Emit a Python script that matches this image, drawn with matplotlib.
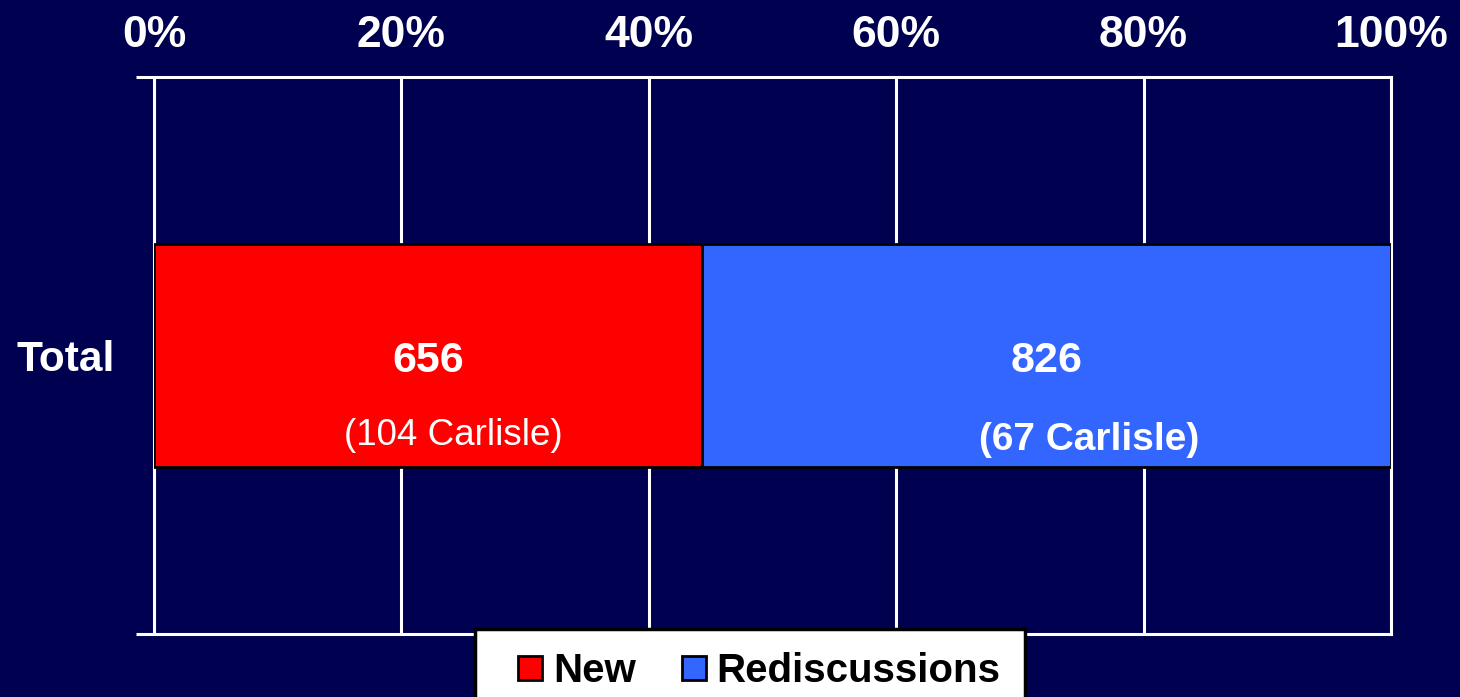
import matplotlib
matplotlib.use("Agg")
import matplotlib.pyplot as plt
from matplotlib.patches import Rectangle
from matplotlib.lines import Line2D

categories = ["Total"]
series_names = ["New", "Rediscussions"]
new_counts = [656]
redisc_counts = [826]
new_notes = ["(104 Carlisle)"]
redisc_notes = ["(67 Carlisle)"]
tick_values = [0, 20, 40, 60, 80, 100]
tick_labels = ["0%", "20%", "40%", "60%", "80%", "100%"]

BG = "#000050"
RED = "#FF0000"
BLUE = "#3366FF"

plt.rcParams['font.family'] = ['Liberation Sans', 'DejaVu Sans']

fig = plt.figure(figsize=(14.6, 6.97), dpi=100, facecolor=BG)
ax = fig.add_axes([154/1460, 1-634/697, (1391-154)/1460, (634-77)/697])
ax.set_facecolor(BG)

totals = [a + b for a, b in zip(new_counts, redisc_counts)]
new_pct = [100*a/t for a, t in zip(new_counts, totals)]
red_pct = [100*b/t for b, t in zip(redisc_counts, totals)]
y = list(range(len(categories)))

ax.barh(y, new_pct, height=0.4, color=RED, edgecolor="black", linewidth=2, zorder=3)
ax.barh(y, red_pct, left=new_pct, height=0.4, color=BLUE, edgecolor="black", linewidth=2, zorder=3)

for i in y:
    cx1 = new_pct[i]/2
    cx2 = new_pct[i] + red_pct[i]/2
    ax.text(cx1, i - 0.009, str(new_counts[i]), color="white", fontsize=31, fontweight="bold",
            ha="center", va="center", zorder=4)
    ax.text(cx1 + 2.1, i - 0.143, new_notes[i], color="white", fontsize=26.5,
            ha="center", va="center", zorder=4)
    ax.text(cx2, i - 0.009, str(redisc_counts[i]), color="white", fontsize=31, fontweight="bold",
            ha="center", va="center", zorder=4)
    ax.text(cx2 + 3.5, i - 0.152, redisc_notes[i], color="white", fontsize=28, fontweight="bold",
            ha="center", va="center", zorder=4)

ax.set_xlim(0, 100)
ax.set_ylim(-0.5, 0.5)
ax.set_xticks(tick_values)
ax.set_xticklabels(tick_labels)
ax.xaxis.tick_top()
ax.tick_params(axis="x", length=0, pad=15, labelsize=32, labelcolor="white")
for lab in ax.get_xticklabels():
    lab.set_fontweight("bold")
ax.grid(axis="x", color="white", linewidth=2.2, zorder=1)
ax.set_axisbelow(True)

ax.set_yticks([-0.5, 0.5], minor=False)
ax.set_yticklabels(["", ""])
ax.tick_params(axis="y", length=13, width=2.2, color="white", direction="out")
ax.set_yticks(y, minor=True)
ax.set_yticklabels(categories, minor=True)
ax.tick_params(axis="y", which="minor", length=0, pad=28, labelsize=30.5, labelcolor="white")
for lab in ax.get_yticklabels(minor=True):
    lab.set_fontweight("bold")

for s in ["left", "top", "bottom", "right"]:
    ax.spines[s].set_color("white")
    ax.spines[s].set_linewidth(2.2)
    ax.spines[s].set_zorder(2)

# legend box
fig.patches.append(Rectangle((475/1460, -0.05), (1025-475)/1460, (1-629/697) + 0.05,
                             transform=fig.transFigure, facecolor="white",
                             edgecolor="black", linewidth=2.5, zorder=5))

handles = [Line2D([], [], marker="s", linestyle="none", markersize=17,
                  markerfacecolor=RED, markeredgecolor="black", markeredgewidth=2),
           Line2D([], [], marker="s", linestyle="none", markersize=17,
                  markerfacecolor=BLUE, markeredgecolor="black", markeredgewidth=2)]
leg = fig.legend(handles, series_names, loc="center left",
                 bbox_to_anchor=(518/1460, 1-671/697), ncol=2, frameon=False,
                 prop={"family": "Liberation Sans", "weight": "bold", "size": 29},
                 handlelength=0.6, handletextpad=0.27, columnspacing=1.14,
                 borderpad=0, borderaxespad=0)
leg.set_zorder(6)

fig.savefig("out.png", dpi=100, facecolor=BG)
